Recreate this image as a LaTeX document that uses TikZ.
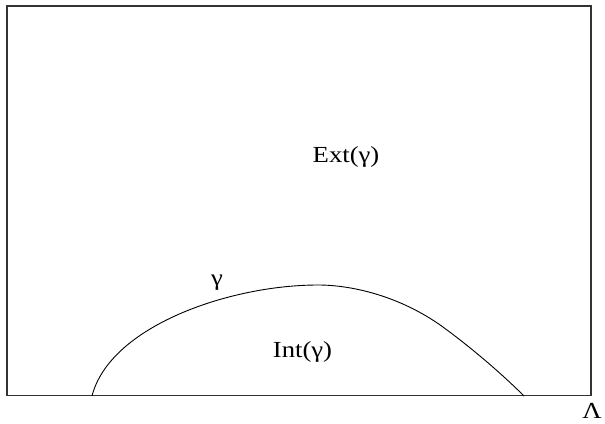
\documentclass[tikz,border=0pt]{standalone}
\usepackage{fontspec}
\setmainfont[FakeStretch=1.16]{Liberation Serif}
\usepackage{tikz}

\begin{document}
\begin{tikzpicture}[x=1pt, y=-1pt, font=\fontsize{23}{27}\selectfont]
      \useasboundingbox (0,0) rectangle (605,423);
      % the region Lambda and the contour
      \draw [line width=1.5pt, black!80] (7,6) rectangle (591,395.5);
      \draw [line width=0.9pt] (92,396) .. controls (110,326) and (230,285) .. (318,285)
                                 .. controls (355,285) and (405,298) .. (447,330)
                                 .. controls (470,347) and (500,372) .. (524,396);

      \node (ext) [anchor=base] at (346,162.5) {Ext(γ)};
      \node (int) [anchor=base] at (302.5,357.5) {Int(γ)};
      \node (gam) [anchor=base] at (217,285) {γ};
      \node (lam) [inner sep=0pt] at (592,411) {Λ};
    \end{tikzpicture}
\end{document}
